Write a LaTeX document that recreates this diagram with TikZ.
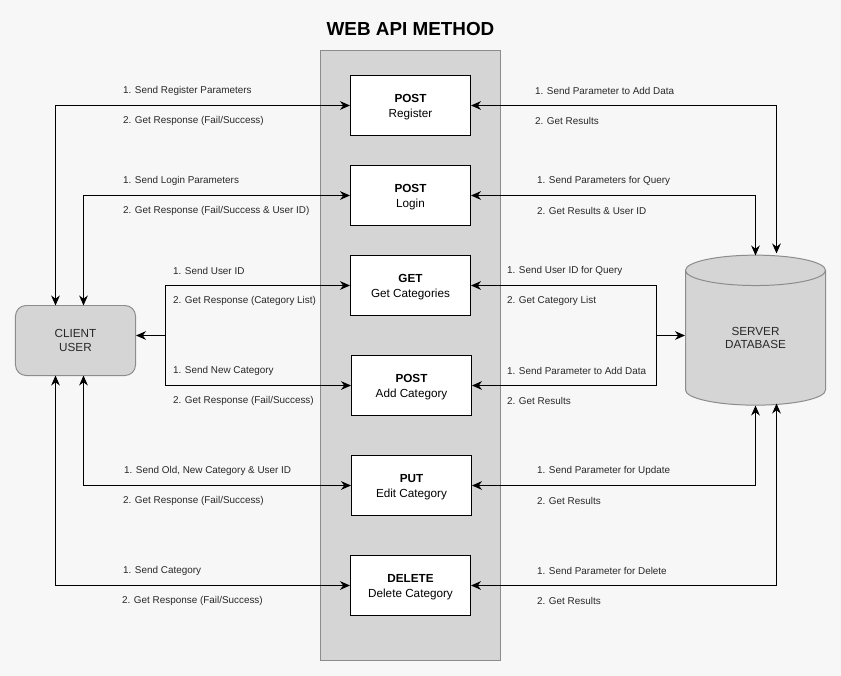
\documentclass[tikz,border=0pt]{standalone}
\usepackage{fontspec}
\setmainfont{Liberation Sans}
\usetikzlibrary{positioning,calc}
\usetikzlibrary{arrows.meta,shapes.geometric}
\definecolor{pagegray}{RGB}{247, 247, 247}
\definecolor{panelgray}{RGB}{213, 213, 213}
\definecolor{edgegray}{RGB}{140, 140, 140}
\definecolor{textgray}{RGB}{40, 40, 40}
\newcommand{\methodhead}[1]{\rule{0pt}{9.6pt}\textbf{#1}}
\tikzset{
    methodbox/.style={draw=black,line width=0.85pt,fill=white,minimum width=3.6cm,minimum height=1.8cm,align=center,font=\fontsize{10}{12.8}\selectfont,text=black,inner sep=0pt},
    infolabel/.style={anchor=west,inner sep=0pt,xshift=-0.2mm,font=\fontsize{8.45}{10}\selectfont,text=textgray},
    endpoint/.style={draw=edgegray,line width=0.85pt,fill=panelgray,align=center,font=\fontsize{10}{12.4}\selectfont,text=textgray,inner sep=0pt},
    oneway/.style={-{Stealth[length=3mm,width=2.6mm]},black,line width=0.85pt},
    twoway/.style={{Stealth[length=3mm,width=2.6mm]}-{Stealth[length=3mm,width=2.6mm]},black,line width=0.85pt}
}

\begin{document}
\begin{tikzpicture}[x=0.03cm,y=-0.03cm]
        % Page
        \fill[pagegray] (0,0) rectangle (841,676);
        \useasboundingbox (0,0) rectangle (841,676);

        \begin{scope}[shift={(0.5,0.5)}]
        % Middle panel
        \node[draw=edgegray,line width=0.85pt,fill=panelgray,minimum width=5.4cm,minimum height=18.3cm,inner sep=0pt] (panel) at (410,355) {};
        \node[font=\bfseries\fontsize{16.1}{18}\selectfont,text=black,inner sep=0pt] (title) at (410,29) {WEB API METHOD};

        % Methods
        \node[methodbox] (register) at (410,105) {\methodhead{POST}\\Register};
        \node[methodbox] (login) at (410,195) {\methodhead{POST}\\Login};
        \node[methodbox] (categories) at (410,285) {\methodhead{GET}\\Get Categories};
        \node[methodbox] (addcat) at (411,385) {\methodhead{POST}\\Add Category};
        \node[methodbox] (editcat) at (411,485) {\methodhead{PUT}\\Edit Category};
        \node[methodbox] (delcat) at (410,585) {\methodhead{DELETE}\\Delete Category};

        % Client and server
        \node[endpoint,rounded corners=9pt,minimum width=3.6cm,minimum height=2.1cm] (client) at (75,340) {CLIENT\\USER};
        \node[endpoint,cylinder,shape border rotate=90,aspect=0.5,minimum width=4.2cm,minimum height=4.5cm,cylinder uses custom fill,cylinder body fill=panelgray,cylinder end fill=panelgray,font=\fontsize{10}{11.8}\selectfont] (server) at (755,337.5) {SERVER\\DATABASE};

        % Free ends
        \coordinate (clientjoin) at (165,335);
        \coordinate (serverjoin) at (656,335);
        \coordinate (clientin) at (client.east |- clientjoin);
        \coordinate (serverin) at (server.west |- serverjoin);
        \coordinate (clientTL) at (55,305);
        \coordinate (clientTR) at (83,305);
        \coordinate (clientBL) at (55,375);
        \coordinate (clientBR) at (83,375);
        \coordinate (serverTL) at (755,255);
        \coordinate (serverTR) at (776,253);
        \coordinate (serverBL) at (755,405);
        \coordinate (serverBR) at (776,403);

        % Client side
        \draw[twoway] (register.west) -| (clientTL);
        \draw[twoway] (login.west) -| (clientTR);
        \draw[twoway] (editcat.west) -| (clientBR);
        \draw[twoway] (delcat.west) -| (clientBL);
        \draw[oneway] (clientjoin) |- (categories.west);
        \draw[oneway] (clientjoin) |- (addcat.west);
        \draw[oneway] (clientjoin) -- (clientin);

        % Server side
        \draw[twoway] (register.east) -| (serverTR);
        \draw[twoway] (login.east) -| (serverTL);
        \draw[twoway] (editcat.east) -| (serverBL);
        \draw[twoway] (delcat.east) -| (serverBR);
        \draw[oneway] (serverjoin) |- (categories.east);
        \draw[oneway] (serverjoin) |- (addcat.east);
        \draw[oneway] (serverjoin) -- (serverin);

        % Labels, client side
        \node[infolabel] (regsend) at (123,90.5) {1. Send Register Parameters};
        \node[infolabel] (regget) at (123,120.5) {2. Get Response (Fail/Success)};
        \node[infolabel] (logsend) at (123,180.5) {1. Send Login Parameters};
        \node[infolabel] (logget) at (123,210.5) {2. Get Response (Fail/Success \& User ID)};
        \node[infolabel] (catsend) at (173,270.5) {1. Send User ID};
        \node[infolabel] (catget) at (173,300.5) {2. Get Response (Category List)};
        \node[infolabel] (addsend) at (173,370.5) {1. Send New Category};
        \node[infolabel] (addget) at (173,400.5) {2. Get Response (Fail/Success)};
        \node[infolabel] (editsend) at (124,470.5) {1. Send Old, New Category \& User ID};
        \node[infolabel] (editget) at (123,500.5) {2. Get Response (Fail/Success)};
        \node[infolabel] (delsend) at (123,570.5) {1. Send Category};
        \node[infolabel] (delget) at (122,600.5) {2. Get Response (Fail/Success)};

        % Labels, server side
        \node[infolabel] (regquery) at (535,90.5) {1. Send Parameter to Add Data};
        \node[infolabel] (regres) at (535,120.5) {2. Get Results};
        \node[infolabel] (logquery) at (537,180.5) {1. Send Parameters for Query};
        \node[infolabel] (logres) at (537,210.5) {2. Get Results \& User ID};
        \node[infolabel] (catquery) at (507,270.5) {1. Send User ID for Query};
        \node[infolabel] (catres) at (507,300.5) {2. Get Category List};
        \node[infolabel] (addquery) at (507,370.5) {1. Send Parameter to Add Data};
        \node[infolabel] (addres) at (507,400.5) {2. Get Results};
        \node[infolabel] (editquery) at (537,470.5) {1. Send Parameter for Update};
        \node[infolabel] (editres) at (537,500.5) {2. Get Results};
        \node[infolabel] (delquery) at (537,570.5) {1. Send Parameter for Delete};
        \node[infolabel] (delres) at (537,600.5) {2. Get Results};
        \end{scope}
    \end{tikzpicture}
\end{document}
